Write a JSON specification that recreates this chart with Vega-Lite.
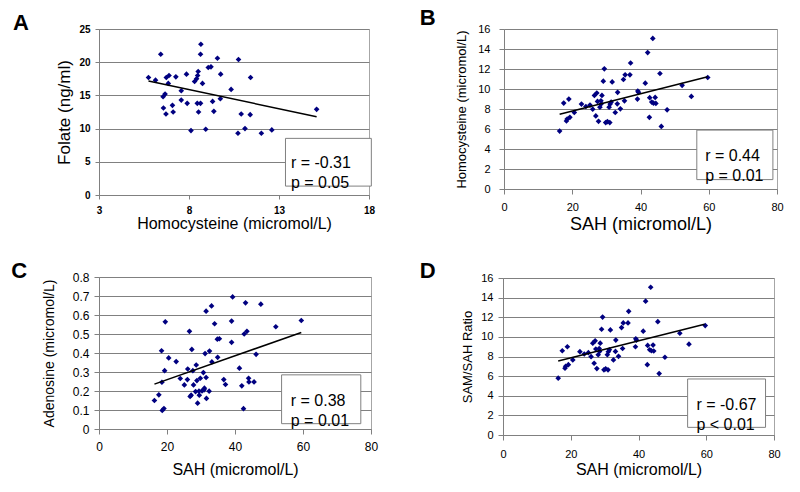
{
  "$schema": "https://vega.github.io/schema/vega-lite/v6.json",
  "background": "white",
  "padding": {"left": 10, "top": 6, "right": 0, "bottom": 0},
  "columns": 2,
  "align": "none",
  "spacing": {"row": 25, "column": 40},
  "datasets": {
    "a": [
      {"x": 5.75, "y": 17.7}, {"x": 6.14, "y": 17.3}, {"x": 6.43, "y": 21.2}, {"x": 6.56, "y": 14.8}, {"x": 6.67, "y": 15.2},
      {"x": 6.58, "y": 13.1}, {"x": 6.72, "y": 12.2}, {"x": 6.74, "y": 17.7}, {"x": 6.85, "y": 16.8}, {"x": 6.89, "y": 18.0},
      {"x": 7.08, "y": 13.5}, {"x": 7.12, "y": 12.5}, {"x": 7.27, "y": 17.8}, {"x": 7.57, "y": 15.7}, {"x": 7.57, "y": 14.3},
      {"x": 7.86, "y": 18.2}, {"x": 7.9, "y": 13.8}, {"x": 8.11, "y": 9.7}, {"x": 8.31, "y": 17.1}, {"x": 8.42, "y": 17.5},
      {"x": 8.48, "y": 18.0}, {"x": 8.51, "y": 18.6}, {"x": 8.46, "y": 13.8}, {"x": 8.53, "y": 12.5}, {"x": 8.64, "y": 13.8},
      {"x": 8.66, "y": 22.7}, {"x": 8.64, "y": 21.2}, {"x": 8.75, "y": 16.8}, {"x": 8.93, "y": 9.9}, {"x": 9.07, "y": 19.2},
      {"x": 9.22, "y": 19.3}, {"x": 9.31, "y": 14.1}, {"x": 9.38, "y": 12.6}, {"x": 9.58, "y": 20.6}, {"x": 9.76, "y": 18.2},
      {"x": 9.74, "y": 14.5}, {"x": 10.34, "y": 15.9}, {"x": 10.72, "y": 9.3}, {"x": 10.75, "y": 20.4}, {"x": 10.9, "y": 12.2},
      {"x": 11.11, "y": 10.0}, {"x": 11.4, "y": 12.1}, {"x": 11.42, "y": 17.7}, {"x": 12.02, "y": 9.3}, {"x": 12.6, "y": 9.8},
      {"x": 15.09, "y": 12.9}
    ],
    "bd": [
      {"x": 16.3, "y": 5.79}, {"x": 17.5, "y": 8.59}, {"x": 18.3, "y": 6.8}, {"x": 18.5, "y": 7.0}, {"x": 19.0, "y": 8.99},
      {"x": 19.3, "y": 7.17}, {"x": 20.6, "y": 7.65}, {"x": 22.7, "y": 8.49}, {"x": 24.0, "y": 8.25}, {"x": 25.2, "y": 8.39},
      {"x": 26.0, "y": 7.98}, {"x": 26.5, "y": 9.36}, {"x": 26.9, "y": 7.31}, {"x": 27.2, "y": 9.6}, {"x": 27.4, "y": 8.76},
      {"x": 27.7, "y": 6.77}, {"x": 28.1, "y": 8.18}, {"x": 28.4, "y": 8.82}, {"x": 28.5, "y": 8.52}, {"x": 28.7, "y": 9.36},
      {"x": 29.1, "y": 10.78}, {"x": 29.4, "y": 12.02}, {"x": 29.8, "y": 6.64}, {"x": 30.3, "y": 6.74}, {"x": 30.8, "y": 8.18},
      {"x": 31.0, "y": 6.64}, {"x": 31.1, "y": 8.49}, {"x": 31.4, "y": 8.69}, {"x": 31.7, "y": 10.71}, {"x": 32.6, "y": 7.65},
      {"x": 33.2, "y": 8.52}, {"x": 33.3, "y": 9.67}, {"x": 34.1, "y": 8.02}, {"x": 35.0, "y": 10.95}, {"x": 35.3, "y": 8.82},
      {"x": 35.5, "y": 11.42}, {"x": 36.9, "y": 11.42}, {"x": 37.1, "y": 12.6}, {"x": 39.1, "y": 8.99}, {"x": 39.2, "y": 9.8},
      {"x": 39.4, "y": 9.67}, {"x": 41.4, "y": 10.58}, {"x": 42.1, "y": 13.64}, {"x": 42.6, "y": 7.17}, {"x": 42.7, "y": 9.13},
      {"x": 43.3, "y": 8.69}, {"x": 43.6, "y": 15.06}, {"x": 43.8, "y": 8.59}, {"x": 44.3, "y": 9.16}, {"x": 44.5, "y": 8.56},
      {"x": 45.7, "y": 11.55}, {"x": 46.1, "y": 6.26}, {"x": 47.8, "y": 7.92}, {"x": 52.2, "y": 10.37}, {"x": 54.9, "y": 9.26},
      {"x": 59.7, "y": 11.15}
    ],
    "c": [
      {"x": 16.3, "y": 0.15}, {"x": 17.6, "y": 0.18}, {"x": 18.4, "y": 0.412}, {"x": 18.5, "y": 0.246}, {"x": 18.6, "y": 0.098},
      {"x": 19.1, "y": 0.108}, {"x": 19.3, "y": 0.307}, {"x": 19.5, "y": 0.564}, {"x": 20.5, "y": 0.374}, {"x": 22.7, "y": 0.355},
      {"x": 23.9, "y": 0.266}, {"x": 25.1, "y": 0.232}, {"x": 26.0, "y": 0.26}, {"x": 26.1, "y": 0.316}, {"x": 26.6, "y": 0.514},
      {"x": 26.8, "y": 0.171}, {"x": 27.1, "y": 0.178}, {"x": 27.3, "y": 0.419}, {"x": 27.6, "y": 0.307}, {"x": 27.8, "y": 0.232},
      {"x": 28.4, "y": 0.197}, {"x": 28.6, "y": 0.337}, {"x": 28.8, "y": 0.255}, {"x": 29.0, "y": 0.136}, {"x": 29.4, "y": 0.199},
      {"x": 29.5, "y": 0.178}, {"x": 29.8, "y": 0.267}, {"x": 30.3, "y": 0.201}, {"x": 30.7, "y": 0.297}, {"x": 30.9, "y": 0.206},
      {"x": 31.0, "y": 0.215}, {"x": 31.2, "y": 0.397}, {"x": 31.5, "y": 0.62}, {"x": 31.5, "y": 0.271}, {"x": 31.6, "y": 0.161},
      {"x": 32.4, "y": 0.199}, {"x": 32.5, "y": 0.41}, {"x": 33.1, "y": 0.648}, {"x": 33.2, "y": 0.353}, {"x": 34.0, "y": 0.554},
      {"x": 34.8, "y": 0.473}, {"x": 35.4, "y": 0.475}, {"x": 34.9, "y": 0.377}, {"x": 36.7, "y": 0.26}, {"x": 37.2, "y": 0.234},
      {"x": 39.0, "y": 0.568}, {"x": 39.0, "y": 0.456}, {"x": 39.3, "y": 0.695}, {"x": 41.3, "y": 0.32}, {"x": 42.0, "y": 0.227},
      {"x": 42.5, "y": 0.107}, {"x": 42.7, "y": 0.5}, {"x": 43.1, "y": 0.664}, {"x": 43.5, "y": 0.514}, {"x": 44.0, "y": 0.267},
      {"x": 44.1, "y": 0.248}, {"x": 45.6, "y": 0.248}, {"x": 46.2, "y": 0.393}, {"x": 47.6, "y": 0.657}, {"x": 52.0, "y": 0.538},
      {"x": 59.5, "y": 0.571}
    ],
    "trendA": [{"x": 5.75, "y": 17.16}, {"x": 15.09, "y": 11.8}],
    "trendB": [{"x": 16.3, "y": 7.48}, {"x": 59.7, "y": 11.22}],
    "trendC": [{"x": 16.3, "y": 0.236}, {"x": 59.5, "y": 0.508}],
    "trendD": [{"x": 16.3, "y": 7.54}, {"x": 59.5, "y": 11.28}]
  },
  "concat": [
    {
      "title": {"text": "A", "dx": -43, "dy": 15},
      "width": 270,
      "height": 166,
      "layer": [
        {
          "data": {"name": "a"},
          "mark": {"type": "point", "shape": "diamond", "filled": true, "size": 32, "color": "#000080", "opacity": 1},
          "encoding": {
            "x": {"field": "x", "type": "quantitative", "scale": {"domain": [3, 18], "nice": false, "zero": false},
              "axis": {"values": [3, 8, 13, 18], "tickCount": 20, "tickSize": 4, "labelPadding": 6, "title": "Homocysteine (micromol/L)", "titleFontSize": 16, "titlePadding": 0,
                "labelFont": "Liberation Sans Narrow, Arial Narrow, Liberation Sans", "labelFontWeight": "bold", "labelFontSize": 10}},
            "y": {"field": "y", "type": "quantitative", "scale": {"domain": [0, 25], "nice": false},
              "axis": {"values": [0, 5, 10, 15, 20, 25], "tickCount": 20, "tickSize": 4, "labelPadding": 5, "title": "Folate (ng/ml)", "titleFontSize": 17, "titlePadding": 5,
                "labelFont": "Liberation Sans Narrow, Arial Narrow, Liberation Sans", "labelFontWeight": "bold", "labelFontSize": 10}}
          }
        },
        {
          "data": {"name": "trendA"},
          "mark": {"type": "line", "color": "#000", "strokeWidth": 1.5},
          "encoding": {"x": {"field": "x", "type": "quantitative"}, "y": {"field": "y", "type": "quantitative"}}
        },
        {
          "data": {"values": [{}]},
          "mark": {"type": "rect", "fill": "white", "stroke": "#808080", "strokeWidth": 1},
          "encoding": {"x": {"datum": 13.36}, "x2": {"datum": 18.13}, "y": {"datum": 8.53}, "y2": {"datum": 1.34}}
        },
        {
          "data": {"values": [{}]},
          "mark": {"type": "text", "align": "left", "baseline": "middle", "fontSize": 16, "lineBreak": "\n", "lineHeight": 20, "font": "Liberation Sans", "color": "#000"},
          "encoding": {"x": {"datum": 13.66}, "y": {"datum": 4.76}, "text": {"value": "r = -0.31\np = 0.05"}}
        }
      ]
    },
    {
      "title": {"text": "B", "dx": -36, "dy": 11},
      "width": 273,
      "height": 160,
      "layer": [
        {
          "data": {"name": "bd"},
          "mark": {"type": "point", "shape": "diamond", "filled": true, "size": 32, "color": "#000080", "opacity": 1},
          "encoding": {
            "x": {"field": "x", "type": "quantitative", "scale": {"domain": [0, 80], "nice": false},
              "axis": {"values": [0, 20, 40, 60, 80], "tickCount": 20, "labelPadding": 7, "title": "SAH (micromol/L)", "titleFontSize": 18, "titlePadding": 3.5}},
            "y": {"field": "y", "type": "quantitative", "scale": {"domain": [0, 16], "nice": false},
              "axis": {"values": [0, 2, 4, 6, 8, 10, 12, 14, 16], "tickCount": 20, "labelPadding": 9, "title": "Homocysteine (micromol/L)", "titleFontSize": 13, "titlePadding": 9}}
          }
        },
        {
          "data": {"name": "trendB"},
          "mark": {"type": "line", "color": "#000", "strokeWidth": 1.5},
          "encoding": {"x": {"field": "x", "type": "quantitative"}, "y": {"field": "y", "type": "quantitative"}}
        },
        {
          "data": {"values": [{}]},
          "mark": {"type": "rect", "fill": "white", "stroke": "#808080", "strokeWidth": 1},
          "encoding": {"x": {"datum": 56.5}, "x2": {"datum": 78.8}, "y": {"datum": 5.89}, "y2": {"datum": 0.94}}
        },
        {
          "data": {"values": [{}]},
          "mark": {"type": "text", "align": "left", "baseline": "middle", "fontSize": 16, "lineBreak": "\n", "lineHeight": 20, "font": "Liberation Sans", "color": "#000"},
          "encoding": {"x": {"datum": 58.96}, "y": {"datum": 3.3}, "text": {"value": "r = 0.44\np = 0.01"}}
        }
      ]
    },
    {
      "title": {"text": "C", "dx": -31, "dy": 16},
      "width": 272,
      "height": 152,
      "layer": [
        {
          "data": {"name": "c"},
          "mark": {"type": "point", "shape": "diamond", "filled": true, "size": 32, "color": "#000080", "opacity": 1},
          "encoding": {
            "x": {"field": "x", "type": "quantitative", "scale": {"domain": [0, 80], "nice": false},
              "axis": {"values": [0, 20, 40, 60, 80], "tickCount": 20, "labelPadding": 7, "labelFontSize": 12, "title": "SAH (micromol/L)", "titleFontSize": 16, "titlePadding": 9}},
            "y": {"field": "y", "type": "quantitative", "scale": {"domain": [0, 0.8], "nice": false},
              "axis": {"values": [0, 0.1, 0.2, 0.3, 0.4, 0.5, 0.6, 0.7, 0.8], "tickCount": 20, "format": "~g", "labelPadding": 5, "labelFontSize": 12, "title": "Adenosine (micromol/L)", "titleFontSize": 14, "titlePadding": 16}}
          }
        },
        {
          "data": {"name": "trendC"},
          "mark": {"type": "line", "color": "#000", "strokeWidth": 1.5},
          "encoding": {"x": {"field": "x", "type": "quantitative"}, "y": {"field": "y", "type": "quantitative"}}
        },
        {
          "data": {"values": [{}]},
          "mark": {"type": "rect", "fill": "white", "stroke": "#808080", "strokeWidth": 1},
          "encoding": {"x": {"datum": 53.7}, "x2": {"datum": 77.0}, "y": {"datum": 0.285}, "y2": {"datum": 0.028}}
        },
        {
          "data": {"values": [{}]},
          "mark": {"type": "text", "align": "left", "baseline": "middle", "fontSize": 16, "lineBreak": "\n", "lineHeight": 20, "font": "Liberation Sans", "color": "#000"},
          "encoding": {"x": {"datum": 56.4}, "y": {"datum": 0.15}, "text": {"value": "r = 0.38\np = 0.01"}}
        }
      ]
    },
    {
      "title": {"text": "D", "dx": -42, "dy": 15},
      "width": 271,
      "height": 157,
      "layer": [
        {
          "data": {"name": "bd"},
          "mark": {"type": "point", "shape": "diamond", "filled": true, "size": 32, "color": "#000080", "opacity": 1},
          "encoding": {
            "x": {"field": "x", "type": "quantitative", "scale": {"domain": [0, 80], "nice": false},
              "axis": {"values": [0, 20, 40, 60, 80], "tickCount": 20, "labelPadding": 8, "title": "SAH (micromol/L)", "titleFontSize": 16, "titlePadding": 2.5}},
            "y": {"field": "y", "type": "quantitative", "scale": {"domain": [0, 16], "nice": false},
              "axis": {"values": [0, 2, 4, 6, 8, 10, 12, 14, 16], "tickCount": 20, "labelPadding": 5, "title": "SAM/SAH  Ratio", "titleFontSize": 13, "titlePadding": 6}}
          }
        },
        {
          "data": {"name": "trendD"},
          "mark": {"type": "line", "color": "#000", "strokeWidth": 1.5},
          "encoding": {"x": {"field": "x", "type": "quantitative"}, "y": {"field": "y", "type": "quantitative"}}
        },
        {
          "data": {"values": [{}]},
          "mark": {"type": "rect", "fill": "white", "stroke": "#808080", "strokeWidth": 1},
          "encoding": {"x": {"datum": 54.5}, "x2": {"datum": 77.5}, "y": {"datum": 5.71}, "y2": {"datum": 0.78}}
        },
        {
          "data": {"values": [{}]},
          "mark": {"type": "text", "align": "left", "baseline": "middle", "fontSize": 16, "lineBreak": "\n", "lineHeight": 20, "font": "Liberation Sans", "color": "#000"},
          "encoding": {"x": {"datum": 57.1}, "y": {"datum": 3.02}, "text": {"value": "r = -0.67\np < 0.01"}}
        }
      ]
    }
  ],
  "config": {
    "font": "Liberation Sans",
    "view": {"stroke": "#a6a6a6", "strokeWidth": 1},
    "title": {"anchor": "start", "frame": "bounds", "fontSize": 22, "fontWeight": "bold", "color": "#000", "font": "Liberation Sans", "offset": 0},
    "axis": {
      "domainColor": "#808080", "tickColor": "#808080", "gridColor": "#808080", "gridWidth": 1, "gridOpacity": 1,
      "tickSize": 5, "labelColor": "#000", "titleColor": "#000", "labelFont": "Liberation Sans", "titleFont": "Liberation Sans",
      "titleFontWeight": "normal", "labelFontSize": 11, "labelFlush": false, "labelOverlap": false
    },
    "axisX": {"grid": false},
    "axisY": {"grid": true}
  }
}
